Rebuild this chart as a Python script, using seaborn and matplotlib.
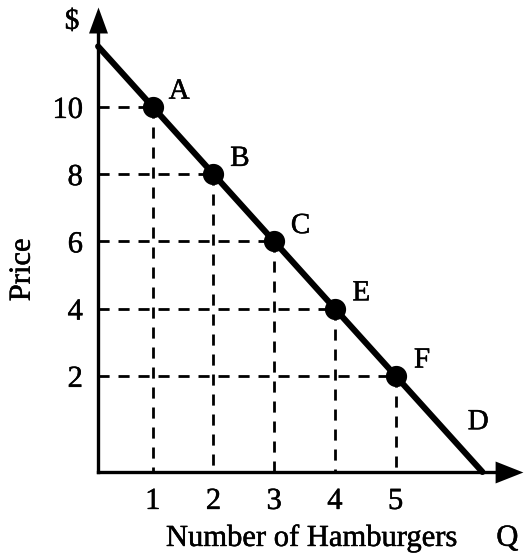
import matplotlib
matplotlib.use("Agg")
import matplotlib.pyplot as plt
import matplotlib.patheffects as pe
import seaborn as sns
import pandas as pd

# demand schedule points
points = ['A', 'B', 'C', 'E', 'F']
quantity = [1, 2, 3, 4, 5]
price = [10, 8, 6, 4, 2]

# demand curve end points (where it meets the axes)
line_q = [0.1, 1, 2, 3, 4, 5, 6.43]
line_p = [11.8, 10, 8, 6, 4, 2, -0.86]

x_ticks = [1, 2, 3, 4, 5]
y_ticks = [2, 4, 6, 8, 10]

# where the drawn axes cross
x0, y0 = 0.1, -0.85

sns.set_style('white')
plt.rcParams['font.family'] = ['Liberation Serif', 'DejaVu Serif']
plt.rcParams['text.color'] = 'black'

# scanned look: slightly heavier glyphs
thick = [pe.withStroke(linewidth=0.35, foreground='black')]

fig = plt.figure(figsize=(5.31, 5.54), dpi=100)
ax = fig.add_axes([0, 0, 1, 1])
ax.set_xlim(-1.516, 7.23)
ax.set_ylim(-3.30, 13.18)

df = pd.DataFrame({'Q': quantity, 'P': price, 'label': points})
curve = pd.DataFrame({'Q': line_q, 'P': line_p})

# dashed guides
for q, p in zip(quantity, price):
    ax.plot([x0, q], [p, p], ls=(0, (4, 3.2)), color='black', lw=2.0, zorder=1)
    ax.plot([q, q], [p, y0], ls=(0, (4, 3.2)), color='black', lw=2.0, zorder=1)

sns.lineplot(data=curve, x='Q', y='P', color='black', lw=4.4, sort=False, ax=ax, zorder=3)
sns.scatterplot(data=df, x='Q', y='P', color='black', s=200, edgecolor='black', ax=ax, zorder=4)

for _, r in df.iterrows():
    ax.annotate(r['label'], (r['Q'], r['P']), xytext=(19, 11), textcoords='offset points',
                ha='center', va='center', fontsize=21, path_effects=thick)
ax.text(6.36, 0.62, 'D', ha='center', va='center', fontsize=21, path_effects=thick)

# axes with arrow heads
for s in ['top', 'right']:
    ax.spines[s].set_visible(False)
ax.spines['left'].set_position(('data', x0))
ax.spines['bottom'].set_position(('data', y0))
ax.spines['left'].set_bounds(y0, 12.3)
ax.spines['bottom'].set_bounds(x0, 6.75)
for s in ['left', 'bottom']:
    ax.spines[s].set_linewidth(2.4)
    ax.spines[s].set_color('black')
up_head = [(0, 1), (-0.73, -1), (0.73, -1), (0, 1)]
right_head = [(1, 0), (-1, 0.79), (-1, -0.79), (1, 0)]
ax.plot(x0, 12.59, marker=up_head, ms=18.7, color='black', mew=0, clip_on=False, zorder=5)
ax.plot(6.87, y0, marker=right_head, ms=20, color='black', mew=0, clip_on=False, zorder=5)

ax.set_xticks(x_ticks)
ax.set_xticklabels([str(t) for t in x_ticks])
ax.set_yticks(y_ticks)
ax.set_yticklabels([str(t) for t in y_ticks])
ax.tick_params(length=0, pad=11, labelsize=22, colors='black')
for t in ax.get_xticklabels() + ax.get_yticklabels():
    t.set_path_effects(thick)
ax.set_xlabel('')
ax.set_ylabel('')

ax.text(-0.33, 12.53, '$', ha='center', va='center', fontsize=21, path_effects=thick)
ax.text(6.84, -2.83, 'Q', ha='center', va='center', fontsize=22, path_effects=thick)
ax.text(3.61, -2.83, 'Number of Hamburgers', ha='center', va='center', fontsize=22, path_effects=thick)
ax.text(-1.15, 5.15, 'Price', ha='center', va='center', rotation=90, fontsize=22, path_effects=thick)

fig.savefig('out.png', dpi=100)
